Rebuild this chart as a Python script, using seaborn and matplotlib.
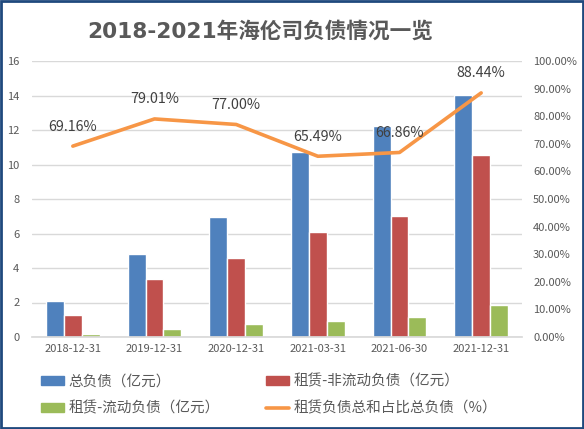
import numpy as np
import pandas as pd
import matplotlib
matplotlib.use("Agg")
import matplotlib.pyplot as plt
import seaborn as sns
from matplotlib.patches import Patch, Rectangle
from matplotlib.lines import Line2D
from matplotlib.ticker import FuncFormatter

# donnees
dates = ["2018-12-31", "2019-12-31", "2020-12-31", "2021-03-31", "2021-06-30", "2021-12-31"]
total_debt = [2.09, 4.81, 6.96, 10.72, 12.23, 14.03]
lease_noncurrent = [1.28, 3.36, 4.58, 6.09, 7.01, 10.55]
lease_current = [0.17, 0.46, 0.75, 0.93, 1.16, 1.86]
lease_ratio = [69.16, 79.01, 77.00, 65.49, 66.86, 88.44]

names = ["总负债（亿元）", "租赁-非流动负债（亿元）", "租赁-流动负债（亿元）"]
line_name = "租赁负债总和占比总负债（%）"
colors = ["#4F81BD", "#C0504D", "#9BBB59"]
line_color = "#F79646"
txt = "#595959"

df = pd.DataFrame({
    "date": dates * 3,
    "value": total_debt + lease_noncurrent + lease_current,
    "serie": [names[0]] * 6 + [names[1]] * 6 + [names[2]] * 6,
})

sns.set_theme(style="white")
plt.rcParams["font.family"] = ["Noto Sans CJK SC", "DejaVu Sans"]

fig = plt.figure(figsize=(5.84, 4.29), dpi=100)
ax = fig.add_axes([32 / 584, 1 - 337 / 429, 490 / 584, 276 / 429])

sns.barplot(data=df, x="date", y="value", hue="serie", hue_order=names,
            palette=colors, width=0.66, saturation=1, ax=ax, legend=False)
ax.set_ylim(0, 16)
ax.set_yticks(range(0, 17, 2))
ax.set_xlim(-0.5, 5.5)
ax.yaxis.grid(True, color="#D9D9D9", linewidth=1)
ax.set_axisbelow(True)
for s in ["top", "left", "right"]:
    ax.spines[s].set_visible(False)
ax.spines["bottom"].set_color("#D9D9D9")
ax.set_xlabel("")
ax.set_ylabel("")
ax.tick_params(axis="both", length=0, labelsize=8, colors=txt)
ax.tick_params(axis="y", pad=9)
ax.tick_params(axis="x", pad=5)

ax2 = ax.twinx()
xpos = np.arange(len(dates))
sns.lineplot(x=xpos, y=lease_ratio, color=line_color, linewidth=2.6, ax=ax2)
ax2.set_ylim(0, 100)
ax2.set_yticks(range(0, 101, 10))
ax2.yaxis.set_major_formatter(FuncFormatter(lambda v, p: "%.2f%%" % v))
for s in ["top", "left", "right", "bottom"]:
    ax2.spines[s].set_visible(False)
ax2.tick_params(axis="y", length=0, labelsize=8, colors=txt, pad=8)
for x, v in zip(xpos, lease_ratio):
    ax2.annotate("%.2f%%" % v, (x, v), xytext=(0, 9), textcoords="offset points",
                 ha="center", va="bottom", fontsize=10.3, color="#404040")

fig.text(260 / 584, 1 - 31 / 429, "2018-2021年海伦司负债情况一览", ha="center", va="center",
         fontsize=15.6, fontweight="bold", color=txt,
         family=["DejaVu Sans", "Noto Sans CJK SC"])

# legende en deux colonnes, ordre par ligne comme Excel
col1 = ([Patch(color=colors[0]), Patch(color=colors[2])], [names[0], names[2]])
col2 = ([Patch(color=colors[1]), Line2D([], [], color=line_color, linewidth=2.6)],
        [names[1], line_name])
for (h, l), x0 in [(col1, 28), (col2, 253)]:
    leg = fig.legend(h, l, loc="center left", bbox_to_anchor=(x0 / 584, 1 - 395 / 429),
                     frameon=False, fontsize=10.5, handlelength=1.6, handleheight=0.55,
                     handletextpad=0.25, labelspacing=0.9)
    for t in leg.get_texts():
        t.set_color(txt)

fig.patches.append(Rectangle((0.0015, 0.002), 0.997, 0.996, transform=fig.transFigure,
                             fill=False, edgecolor="#1F497D", linewidth=2))

fig.savefig("out.png", dpi=100)
